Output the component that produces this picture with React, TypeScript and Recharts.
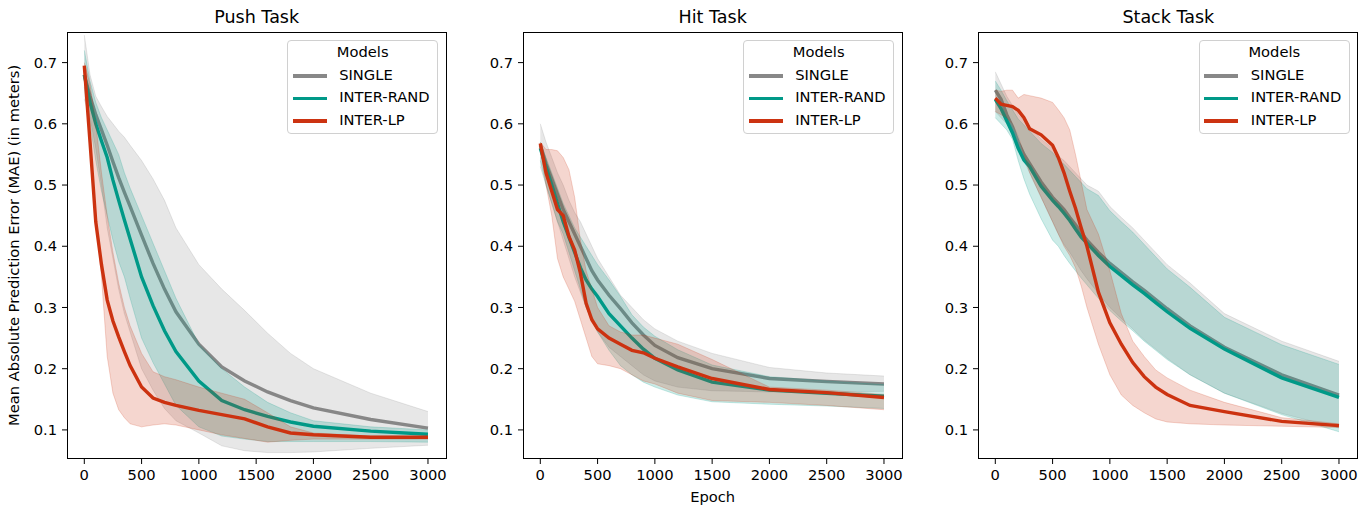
import { ComposedChart, Area, Line, XAxis, YAxis } from 'recharts'

const modelNames = ['SINGLE', 'INTER-RAND', 'INTER-LP']
const modelColors = ['#888888', '#009988', '#cc3311']
const xTicks = [0, 500, 1000, 1500, 2000, 2500, 3000]
const yTicks = [0.1, 0.2, 0.3, 0.4, 0.5, 0.6, 0.7]

// Push task
const pushEpochs = [0, 50, 100, 150, 200, 250, 300, 350, 400, 500, 600, 700, 800, 1000, 1200, 1400, 1600, 1800, 2000, 2500, 3000]
const pushSingleMean = [0.68, 0.645, 0.615, 0.59, 0.565, 0.538, 0.512, 0.488, 0.465, 0.418, 0.372, 0.33, 0.293, 0.24, 0.203, 0.18, 0.162, 0.148, 0.136, 0.117, 0.103]
const pushSingleLo = [0.64, 0.61, 0.56, 0.5, 0.43, 0.38, 0.33, 0.29, 0.26, 0.2, 0.165, 0.135, 0.115, 0.095, 0.074, 0.066, 0.063, 0.063, 0.064, 0.07, 0.075]
const pushSingleHi = [0.745, 0.68, 0.645, 0.628, 0.612, 0.6, 0.588, 0.578, 0.565, 0.54, 0.51, 0.475, 0.43, 0.37, 0.33, 0.295, 0.258, 0.225, 0.2, 0.16, 0.13]
const pushRandMean = [0.68, 0.635, 0.6, 0.572, 0.545, 0.508, 0.475, 0.443, 0.412, 0.35, 0.303, 0.262, 0.228, 0.18, 0.148, 0.133, 0.122, 0.113, 0.106, 0.098, 0.093]
const pushRandLo = [0.66, 0.6, 0.54, 0.49, 0.45, 0.41, 0.375, 0.35, 0.315, 0.25, 0.21, 0.175, 0.14, 0.105, 0.09, 0.085, 0.081, 0.081, 0.081, 0.081, 0.08]
const pushRandHi = [0.72, 0.67, 0.635, 0.61, 0.59, 0.57, 0.55, 0.52, 0.495, 0.45, 0.405, 0.36, 0.315, 0.24, 0.2, 0.17, 0.145, 0.128, 0.115, 0.105, 0.1]
const pushLpMean = [0.695, 0.57, 0.44, 0.37, 0.312, 0.278, 0.252, 0.228, 0.205, 0.17, 0.152, 0.145, 0.14, 0.132, 0.125, 0.118, 0.105, 0.095, 0.092, 0.088, 0.088]
const pushLpLo = [0.69, 0.58, 0.45, 0.35, 0.22, 0.16, 0.133, 0.12, 0.11, 0.105, 0.108, 0.11, 0.108, 0.1, 0.092, 0.086, 0.08, 0.083, 0.085, 0.085, 0.085]
const pushLpHi = [0.7, 0.665, 0.6, 0.52, 0.45, 0.39, 0.34, 0.3, 0.27, 0.225, 0.195, 0.187, 0.182, 0.17, 0.16, 0.15, 0.128, 0.105, 0.095, 0.09, 0.09]

// Hit task
const hitEpochs = [0, 50, 100, 150, 200, 250, 300, 350, 400, 450, 500, 600, 700, 800, 900, 1000, 1200, 1500, 2000, 2500, 3000]
const hitSingleMean = [0.565, 0.535, 0.51, 0.485, 0.46, 0.44, 0.42, 0.4, 0.38, 0.36, 0.345, 0.32, 0.298, 0.275, 0.255, 0.238, 0.218, 0.2, 0.184, 0.179, 0.175]
const hitSingleLo = [0.53, 0.5, 0.47, 0.44, 0.41, 0.38, 0.35, 0.325, 0.3, 0.28, 0.26, 0.235, 0.22, 0.205, 0.19, 0.18, 0.17, 0.164, 0.162, 0.162, 0.163]
const hitSingleHi = [0.6, 0.57, 0.545, 0.52, 0.5, 0.475, 0.455, 0.44, 0.42, 0.4, 0.38, 0.35, 0.32, 0.3, 0.28, 0.265, 0.245, 0.225, 0.202, 0.193, 0.188]
const hitRandMean = [0.56, 0.53, 0.5, 0.47, 0.44, 0.415, 0.39, 0.365, 0.345, 0.33, 0.318, 0.29, 0.27, 0.25, 0.232, 0.217, 0.198, 0.178, 0.165, 0.16, 0.155]
const hitRandLo = [0.54, 0.5, 0.47, 0.44, 0.42, 0.39, 0.36, 0.33, 0.3, 0.28, 0.26, 0.23, 0.205, 0.19, 0.178, 0.17, 0.157, 0.146, 0.142, 0.139, 0.135]
const hitRandHi = [0.57, 0.545, 0.52, 0.495, 0.47, 0.45, 0.43, 0.415, 0.4, 0.385, 0.37, 0.345, 0.318, 0.288, 0.268, 0.253, 0.231, 0.206, 0.187, 0.18, 0.174]
const hitLpMean = [0.568, 0.52, 0.49, 0.46, 0.45, 0.416, 0.394, 0.356, 0.307, 0.28, 0.265, 0.25, 0.24, 0.23, 0.226, 0.217, 0.203, 0.184, 0.166, 0.161, 0.153]
const hitLpLo = [0.56, 0.5, 0.45, 0.38, 0.35, 0.33, 0.31, 0.28, 0.25, 0.22, 0.208, 0.205, 0.2, 0.19, 0.18, 0.175, 0.16, 0.148, 0.145, 0.14, 0.133]
const hitLpHi = [0.57, 0.558, 0.558, 0.556, 0.545, 0.525, 0.48, 0.41, 0.36, 0.33, 0.3, 0.27, 0.26, 0.255, 0.255, 0.25, 0.24, 0.215, 0.17, 0.165, 0.158]

// Stack task
const stackEpochs = [0, 50, 100, 150, 200, 250, 300, 400, 500, 550, 600, 650, 700, 750, 800, 900, 1000, 1100, 1200, 1300, 1400, 1500, 1700, 2000, 2500, 3000]
const stackSingleMean = [0.655, 0.64, 0.615, 0.595, 0.57, 0.55, 0.535, 0.505, 0.48, 0.47, 0.46, 0.447, 0.435, 0.422, 0.41, 0.39, 0.372, 0.357, 0.342, 0.328, 0.313, 0.298, 0.27, 0.235, 0.19, 0.157]
const stackSingleLo = [0.62, 0.61, 0.6, 0.59, 0.565, 0.54, 0.52, 0.48, 0.44, 0.42, 0.403, 0.39, 0.375, 0.36, 0.347, 0.323, 0.3, 0.282, 0.265, 0.247, 0.232, 0.217, 0.19, 0.16, 0.127, 0.103]
const stackSingleHi = [0.685, 0.665, 0.645, 0.63, 0.615, 0.605, 0.595, 0.575, 0.56, 0.547, 0.54, 0.53, 0.52, 0.51, 0.5, 0.49, 0.465, 0.447, 0.43, 0.41, 0.39, 0.37, 0.34, 0.29, 0.245, 0.212]
const stackRandMean = [0.64, 0.625, 0.605, 0.585, 0.56, 0.541, 0.53, 0.498, 0.475, 0.465, 0.454, 0.442, 0.428, 0.415, 0.405, 0.385, 0.367, 0.352, 0.337, 0.323, 0.308, 0.293, 0.266, 0.232, 0.185, 0.153]
const stackRandLo = [0.61, 0.6, 0.59, 0.575, 0.54, 0.51, 0.485, 0.445, 0.41, 0.4, 0.385, 0.372, 0.36, 0.348, 0.337, 0.315, 0.295, 0.278, 0.262, 0.245, 0.23, 0.215, 0.19, 0.16, 0.125, 0.097]
const stackRandHi = [0.67, 0.655, 0.638, 0.623, 0.608, 0.598, 0.588, 0.568, 0.553, 0.541, 0.534, 0.524, 0.514, 0.504, 0.494, 0.483, 0.458, 0.44, 0.423, 0.403, 0.383, 0.363, 0.333, 0.284, 0.239, 0.207]
const stackLpMean = [0.642, 0.632, 0.63, 0.628, 0.622, 0.61, 0.592, 0.582, 0.565, 0.545, 0.52, 0.49, 0.462, 0.43, 0.4, 0.325, 0.275, 0.24, 0.21, 0.187, 0.17, 0.158, 0.14, 0.13, 0.114, 0.107]
const stackLpLo = [0.62, 0.615, 0.61, 0.6, 0.58, 0.55, 0.52, 0.48, 0.44, 0.42, 0.4, 0.385, 0.365, 0.335, 0.3, 0.24, 0.19, 0.157, 0.14, 0.128, 0.118, 0.113, 0.11, 0.108, 0.106, 0.104]
const stackLpHi = [0.655, 0.653, 0.655, 0.655, 0.642, 0.648, 0.646, 0.642, 0.635, 0.623, 0.61, 0.59, 0.55, 0.505, 0.46, 0.42, 0.36, 0.29, 0.245, 0.22, 0.198, 0.185, 0.165, 0.145, 0.12, 0.11]

type Row = { [key: string]: number }

function buildRows(epochs: number[], series: number[][][]): Row[] {
  return epochs.map((epoch, i) => {
    const row: Row = { epoch }
    series.forEach(([mean, lo, hi], k) => {
      row['m' + k] = mean[i]
      row['lo' + k] = lo[i]
      row['hi' + k] = hi[i]
    })
    return row
  })
}

const panels = [
  {
    title: 'Push Task',
    plotLeft: 66.7,
    rows: buildRows(pushEpochs, [
      [pushSingleMean, pushSingleLo, pushSingleHi],
      [pushRandMean, pushRandLo, pushRandHi],
      [pushLpMean, pushLpLo, pushLpHi],
    ]),
  },
  {
    title: 'Hit Task',
    plotLeft: 522.7,
    rows: buildRows(hitEpochs, [
      [hitSingleMean, hitSingleLo, hitSingleHi],
      [hitRandMean, hitRandLo, hitRandHi],
      [hitLpMean, hitLpLo, hitLpHi],
    ]),
  },
  {
    title: 'Stack Task',
    plotLeft: 978.3,
    rows: buildRows(stackEpochs, [
      [stackSingleMean, stackSingleLo, stackSingleHi],
      [stackRandMean, stackRandLo, stackRandHi],
      [stackLpMean, stackLpLo, stackLpHi],
    ]),
  },
]

const FONT = '"DejaVu Sans", sans-serif'
const PLOT_TOP = 32
const PLOT_W = 380
const PLOT_H = 427
const Y_AXIS_W = 60
const CHART_H = 506

function ModelsLegend({ plotLeft }: { plotLeft: number }) {
  const boxLeft = plotLeft + PLOT_W - 8.5 - 151
  return (
    <div
      style={{
        position: 'absolute',
        left: boxLeft,
        top: 40,
        width: 151,
        height: 94,
        border: '1px solid #d0d0d0',
        borderRadius: 4,
        background: 'rgba(255,255,255,0.8)',
        boxSizing: 'border-box',
        fontSize: 14.7,
        lineHeight: 1,
        fontFamily: FONT,
        color: '#000',
      }}
    >
      <div style={{ position: 'absolute', top: 3.6, width: '100%', textAlign: 'center' }}>Models</div>
      {modelNames.map((name, i) => (
        <div key={name}>
          <div
            style={{
              position: 'absolute',
              left: 4.5,
              top: 33 + i * 22.5,
              width: 34,
              height: 3.5,
              background: modelColors[i],
            }}
          />
          <div style={{ position: 'absolute', left: 51, top: 26.8 + i * 22.5, whiteSpace: 'nowrap' }}>{name}</div>
        </div>
      ))}
    </div>
  )
}

function TaskPanel({ title, plotLeft, rows }: { title: string; plotLeft: number; rows: Row[] }) {
  const chartLeft = plotLeft - Y_AXIS_W
  return (
    <>
      <div
        style={{
          position: 'absolute',
          left: plotLeft,
          top: 8.5,
          width: PLOT_W,
          textAlign: 'center',
          fontSize: 17.5,
          lineHeight: 1,
          fontFamily: FONT,
          color: '#000',
        }}
      >
        {title}
      </div>
      <div style={{ position: 'absolute', left: chartLeft, top: 0 }}>
        <ComposedChart
          width={Y_AXIS_W + PLOT_W + 12}
          height={CHART_H}
          data={rows}
          margin={{ top: PLOT_TOP, right: 12, left: 0, bottom: CHART_H - PLOT_TOP - PLOT_H - 30 }}
        >
          <XAxis
            type="number"
            dataKey="epoch"
            domain={[-151, 3166]}
            allowDataOverflow
            ticks={xTicks}
            height={30}
            axisLine={false}
            tickSize={5}
            tickMargin={6}
            tickLine={{ stroke: '#000' }}
            tick={{ fill: '#000', fontSize: 14.7, fontFamily: FONT }}
          />
          <YAxis
            type="number"
            domain={[0.0525, 0.75]}
            allowDataOverflow
            ticks={yTicks}
            width={Y_AXIS_W}
            axisLine={false}
            tickSize={5}
            tickMargin={5}
            tickLine={{ stroke: '#000' }}
            tickFormatter={(v: number) => v.toFixed(1)}
            tick={{ fill: '#000', fontSize: 14.7, fontFamily: FONT }}
          />
          {modelNames.flatMap((name, k) => [
            <Line
              key={'line' + k}
              type="linear"
              dataKey={'m' + k}
              name={name}
              stroke={modelColors[k]}
              strokeWidth={3.4}
              dot={false}
              activeDot={false}
              isAnimationActive={false}
              zIndex={101 + k * 2}
            />,
            <Area
              key={'band' + k}
              type="linear"
              dataKey={(d: Row) => [d['lo' + k], d['hi' + k]]}
              name={name + ' band'}
              fill={modelColors[k]}
              fillOpacity={0.2}
              stroke={modelColors[k]}
              strokeOpacity={0.2}
              strokeWidth={1}
              dot={false}
              activeDot={false}
              isAnimationActive={false}
              zIndex={102 + k * 2}
            />,
          ])}
        </ComposedChart>
      </div>
      <div
        style={{
          position: 'absolute',
          left: plotLeft,
          top: PLOT_TOP,
          width: PLOT_W,
          height: PLOT_H,
          border: '1px solid #000',
          boxSizing: 'border-box',
          pointerEvents: 'none',
        }}
      />
      <ModelsLegend plotLeft={plotLeft} />
    </>
  )
}

export default function App() {
  return (
    <div
      style={{
        position: 'absolute',
        left: 0,
        top: 0,
        width: 1369,
        height: 506,
        background: '#fff',
        overflow: 'hidden',
        fontFamily: FONT,
      }}
    >
      {panels.map((p) => (
        <TaskPanel key={p.title} title={p.title} plotLeft={p.plotLeft} rows={p.rows} />
      ))}
      <div
        style={{
          position: 'absolute',
          left: 14.2 - PLOT_H / 2,
          top: PLOT_TOP + PLOT_H / 2 - 7.35,
          width: PLOT_H,
          textAlign: 'center',
          fontSize: 14.7,
          lineHeight: 1,
          transform: 'rotate(-90deg)',
          whiteSpace: 'nowrap',
          color: '#000',
        }}
      >
        Mean Absolute Prediction Error (MAE) (in meters)
      </div>
      <div
        style={{
          position: 'absolute',
          left: 522.7,
          top: 490,
          width: PLOT_W,
          textAlign: 'center',
          fontSize: 14.7,
          lineHeight: 1,
          color: '#000',
        }}
      >
        Epoch
      </div>
    </div>
  )
}
